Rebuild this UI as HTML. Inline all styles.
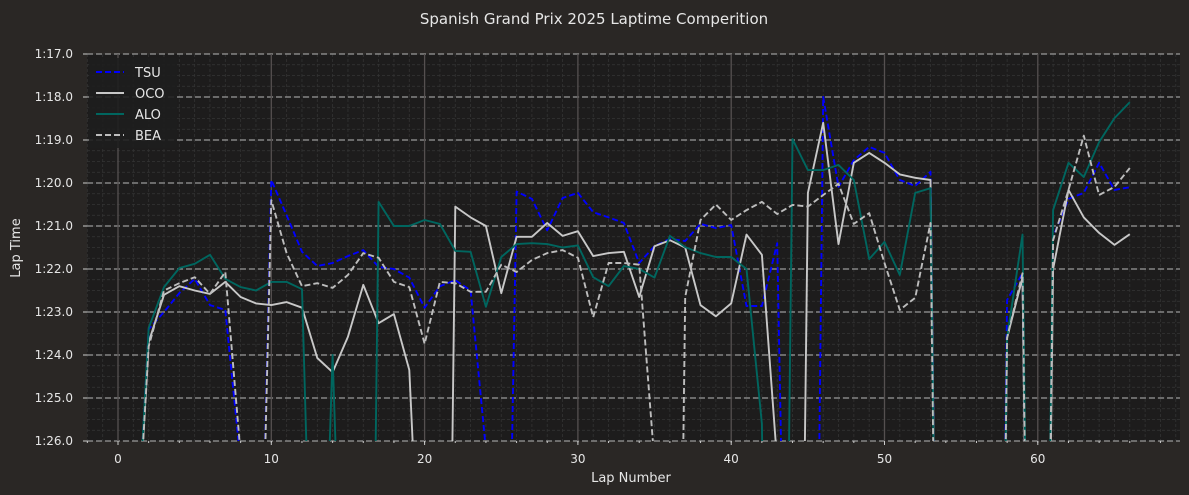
<!DOCTYPE html>
<html><head><meta charset="utf-8"><style>
html,body{margin:0;padding:0;background:#2a2725;width:1189px;height:495px;overflow:hidden;font-family:"Liberation Sans","DejaVu Sans",sans-serif;}
svg{display:block;}
svg text{font-family:"DejaVu Sans","Liberation Sans",sans-serif;}
</style></head><body>
<svg id="chart" width="1189" height="495" xmlns="http://www.w3.org/2000/svg">
<rect width="1189" height="495" fill="#2a2725"/>
<text x="594" y="24" text-anchor="middle" fill="#e6e6e6" font-size="15">Spanish Grand Prix 2025 Laptime Comperition</text>
<defs><clipPath id="clip"><rect x="87" y="54" width="1093" height="387"/></clipPath></defs>
<rect x="87" y="54" width="1093" height="387" fill="#1d1c1c"/>
<g id="grid"></g>
<g id="series" clip-path="url(#clip)"></g>
<g id="axes"></g>
<text x="631" y="482" text-anchor="middle" fill="#e6e6e6" font-size="13">Lap Number</text>
<text x="20" y="248" text-anchor="middle" fill="#e6e6e6" font-size="13" transform="rotate(-90 20 248)">Lap Time</text>
<g id="legend">
<rect x="89" y="58" width="88" height="90" fill="#1e1e1e" opacity="0.9" rx="2"/>
</g>
</svg>
<script>
const laps = [];
for (let i = 1; i <= 66; i++) laps.push(i);
const tsu = [90,83.4,83.0,82.56,82.23,82.84,82.95,86.5,95,79.93,80.75,81.6,81.93,81.86,81.7,81.56,81.95,82.0,82.2,82.9,82.4,82.26,82.5,86.2,100,80.2,80.37,81.1,80.35,80.23,80.68,80.8,80.93,81.86,81.47,81.3,81.35,80.95,81.05,80.98,82.86,82.86,81.4,100,110,78.0,80.09,79.47,79.16,79.3,79.93,80.07,79.74,110,110,110,110,82.72,82.1,110,81.25,80.37,80.23,79.53,80.16,80.1];
const oco = [90,83.7,82.6,82.4,82.5,82.58,82.3,82.65,82.8,82.84,82.77,82.9,84.07,84.4,83.58,82.37,83.26,83.05,84.35,92,110,80.55,80.8,81.0,82.56,81.25,81.25,80.93,81.23,81.12,81.7,81.63,81.6,82.65,81.47,81.33,81.5,82.84,83.1,82.8,81.2,81.67,86.5,110,80.23,78.6,81.42,79.53,79.3,79.53,79.8,79.88,79.93,110,110,110,110,83.6,82.2,110,82.0,80.16,80.8,81.16,81.44,81.19];
const alo = [90,83.37,82.42,81.98,81.88,81.67,82.23,82.42,82.5,82.3,82.3,82.47,95,84.0,95,110,80.44,81.0,81.0,80.86,80.95,81.58,81.6,82.88,81.72,81.42,81.4,81.42,81.5,81.45,82.19,82.4,81.93,82.0,82.2,81.23,81.49,81.63,81.72,81.72,82.0,85.6,110,78.98,79.7,79.7,79.58,79.93,81.77,81.37,82.14,80.23,80.12,110,110,110,110,83.6,81.2,110,80.63,79.53,79.86,79.05,78.49,78.12];
const bea = [90,83.8,82.5,82.33,82.19,82.58,82.07,86.3,95,80.4,81.63,82.4,82.33,82.44,82.14,81.63,81.74,82.3,82.42,83.74,82.3,82.33,82.53,82.53,81.9,82.07,81.79,81.63,81.56,81.74,83.12,81.86,81.86,81.9,86.5,110,82.65,80.86,80.5,80.86,80.63,80.44,80.72,80.51,80.55,80.28,80.02,80.95,80.7,81.86,82.95,82.67,80.93,110,110,110,110,83.6,82.1,110,81.33,80.16,78.9,80.28,80.09,79.65];
const xTicks = [0,10,20,30,40,50,60];
const yTicks = [77,78,79,80,81,82,83,84,85,86];
const yTickLabels = ["1:17.0","1:18.0","1:19.0","1:20.0","1:21.0","1:22.0","1:23.0","1:24.0","1:25.0","1:26.0"];

const NS = "http://www.w3.org/2000/svg";
const X0=87,X1=1180,Y0=54,Y1=441;
const CUT=87;
function xs(v){return 118 + v*15.33;}
function ys(v){return Y0 + (v-77)*(Y1-Y0)/9;}
function mk(tag, attrs, parent){const e=document.createElementNS(NS,tag);for(const k in attrs)e.setAttribute(k,attrs[k]);parent.appendChild(e);return e;}
const grid=document.getElementById('grid'), axes=document.getElementById('axes'), series=document.getElementById('series'), legend=document.getElementById('legend');

for(let v=77; v<=86.001; v+=0.25){
  const l=mk('line',{x1:X0,x2:X1,y1:ys(v),y2:ys(v),stroke:'#353535','stroke-width':0.8,'stroke-dasharray':'3,2'},grid);
  
  
}
for(let v=-2; v<=69; v+=1){
  const x=xs(v); if(x<X0||x>X1) continue;
  const l=mk('line',{x1:x,x2:x,y1:Y0,y2:Y1,stroke:'#333','stroke-width':0.8,'stroke-dasharray':'3,2'},grid);
  
  
}
yTicks.forEach((v,i)=>{
  const l=mk('line',{x1:X0,x2:X1,y1:ys(v),y2:ys(v),stroke:'#9a9a9a','stroke-width':1.2,'stroke-dasharray':'6,3'},grid);
  
  
  const t=mk('text',{x:X0-14,y:ys(v)+4,'text-anchor':'end',fill:'#e6e6e6','font-size':12},axes);
  t.textContent=yTickLabels[i];
  
  
  mk('line',{x1:X0-4,x2:X0,y1:ys(v),y2:ys(v),stroke:'#ccc'},axes);
});
xTicks.forEach(v=>{
  const l=mk('line',{x1:xs(v),x2:xs(v),y1:Y0,y2:Y1,stroke:'#555050','stroke-width':1.3},grid);
  
  
  const t=mk('text',{x:xs(v),y:Y1+22,'text-anchor':'middle',fill:'#e6e6e6','font-size':12},axes);
  t.textContent=String(v);
  
  
  mk('line',{x1:xs(v),x2:xs(v),y1:Y1,y2:Y1+4,stroke:'#ccc'},axes);
});
for(let v=-2; v<=69; v+=2){const x=xs(v); if(x<X0||x>X1) continue; mk('line',{x1:x,x2:x,y1:Y1,y2:Y1+2,stroke:'#ccc'},axes);}

// build a path, cutting segments where the data exceeds CUT (off-chart)
function buildPath(data){
  let d='', pen=false;
  for(let j=0;j<data.length-1;j++){
    const xa=laps[j], xb=laps[j+1], va=data[j], vb=data[j+1];
    if(va>CUT && vb>CUT){pen=false; continue;}
    let x1=xa,v1=va,x2=xb,v2=vb;
    if(va>CUT){const f=(va-CUT)/(va-vb); x1=xa+f*(xb-xa); v1=CUT;}
    if(vb>CUT){const f=(CUT-va)/(vb-va); x2=xa+f*(xb-xa); v2=CUT;}
    if(!pen || va>CUT){d+='M'+xs(x1).toFixed(1)+','+ys(v1).toFixed(1)+' ';}
    d+='L'+xs(x2).toFixed(1)+','+ys(v2).toFixed(1)+' ';
    pen = vb<=CUT;
  }
  return d;
}

const defs=[
  {name:'TSU',data:tsu,color:'#0000ff',dash:'6,3',w:1.9},
  {name:'OCO',data:oco,color:'#c8c8c8',dash:'',w:1.9},
  {name:'ALO',data:alo,color:'#00665f',dash:'',w:1.9},
  {name:'BEA',data:bea,color:'#bdbdbd',dash:'6,3',w:1.9}
];
defs.forEach((s,i)=>{
  const p=mk('path',{d:buildPath(s.data),fill:'none',stroke:s.color,'stroke-width':s.w,'stroke-dasharray':s.dash,'stroke-linejoin':'round'},series);
  
  
  const ly=72+i*21;
  const g=mk('g',{},legend);
  
  
  mk('line',{x1:96,x2:124,y1:ly,y2:ly,stroke:s.color,'stroke-width':2,'stroke-dasharray':s.dash},g);
  const t=mk('text',{x:135,y:ly+5,fill:'#e6e6e6','font-size':13},g);
  t.textContent=s.name;
});
</script>
</body></html>
